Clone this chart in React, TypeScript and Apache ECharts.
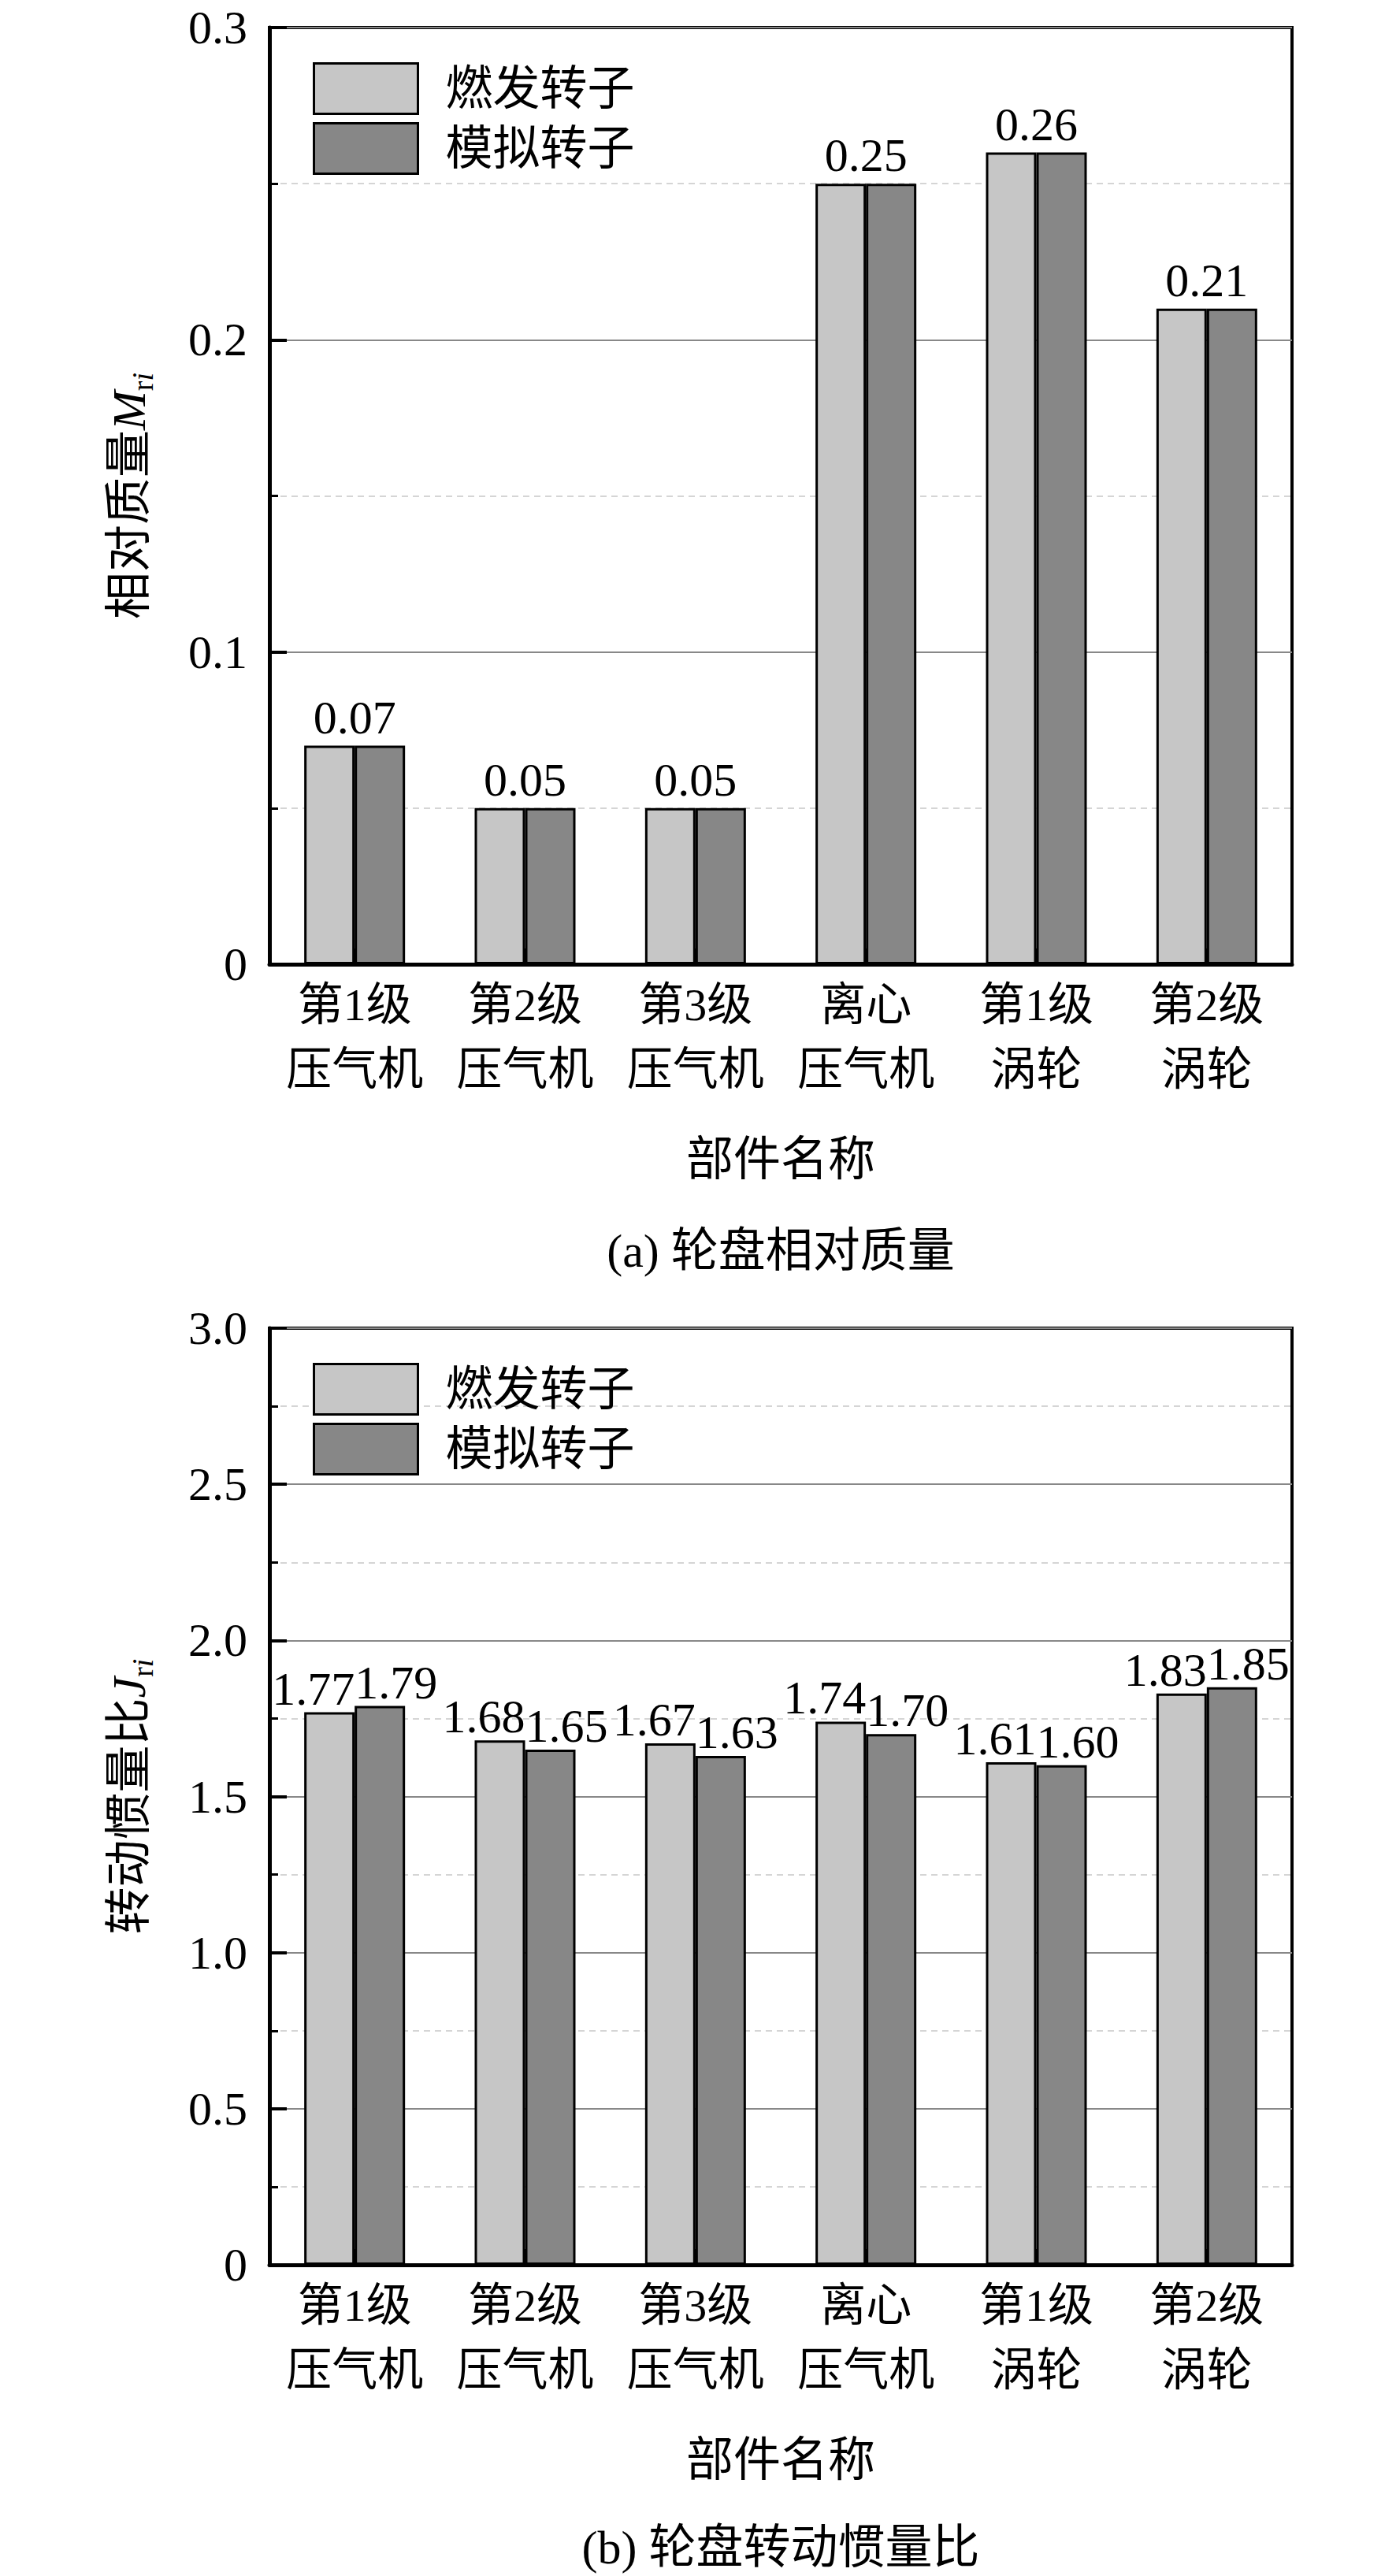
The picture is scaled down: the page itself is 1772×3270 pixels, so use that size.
import React, { useEffect, useRef } from "react";
import * as echarts from "echarts";

const categories = [
  "第1级\n压气机",
  "第2级\n压气机",
  "第3级\n压气机",
  "离心\n压气机",
  "第1级\n涡轮",
  "第2级\n涡轮",
];
const seriesNames = ["燃发转子", "模拟转子"];

const massReal = [0.07, 0.05, 0.05, 0.25, 0.26, 0.21];
const massSim = [0.07, 0.05, 0.05, 0.25, 0.26, 0.21];
const massAxis = { min: 0, max: 0.3, interval: 0.1 };

const inertiaReal = [1.77, 1.68, 1.67, 1.74, 1.61, 1.83];
const inertiaSim = [1.79, 1.65, 1.63, 1.7, 1.6, 1.85];
const inertiaAxis = { min: 0, max: 3, interval: 0.5 };

const FONT = "'Liberation Serif', 'Noto Sans CJK SC', serif";
const LIGHT = "#c6c6c6";
const DARK = "#878787";

type PanelCfg = {
  real: number[];
  sim: number[];
  axis: { min: number; max: number; interval: number };
  digits: number;
  yName: string;
  caption: string;
  groupLabel: boolean;
  captionY: number;
};

function buildOption(cfg: PanelCfg) {
  const labelBase = {
    show: true,
    position: "top",
    distance: cfg.groupLabel ? 6 : 0,
    fontSize: 60,
    fontFamily: FONT,
    color: "#000",
    formatter: (p: any) => Number(p.value).toFixed(2),
  };
  const subStyle = { fontSize: 38, fontFamily: FONT, verticalAlign: "bottom", lineHeight: 30, color: "#000" };
  return {
    animation: false,
    backgroundColor: "#fff",
    grid: {
      left: 342,
      top: 35,
      width: 1298,
      height: 1189,
      show: true,
      borderColor: "#000",
      borderWidth: 4,
      backgroundColor: "transparent",
    },
    legend: {
      orient: "vertical",
      left: 392,
      top: 74,
      itemWidth: 132,
      itemHeight: 64,
      itemGap: 9,
      icon: "rect",
      data: seriesNames,
      itemStyle: { borderColor: "#000", borderWidth: 3 },
      textStyle: { fontSize: 60, fontFamily: FONT, color: "#000", padding: [0, 0, 0, 30] },
    },
    xAxis: {
      type: "category",
      data: categories,
      name: "部件名称",
      nameLocation: "middle",
      nameGap: 218,
      nameTextStyle: { fontSize: 60, fontFamily: FONT, color: "#000" },
      axisLine: { lineStyle: { color: "#000", width: 5 } },
      axisTick: { show: true, inside: true, alignWithLabel: true, length: 20, lineStyle: { color: "#000", width: 3 } },
      axisLabel: { fontSize: 58, fontFamily: FONT, color: "#000", lineHeight: 82, margin: 10, interval: 0 },
      splitLine: { show: false },
    },
    yAxis: {
      type: "value",
      min: cfg.axis.min,
      max: cfg.axis.max,
      interval: cfg.axis.interval,
      name: cfg.yName,
      nameLocation: "middle",
      nameGap: 142,
      nameRotate: 90,
      nameTextStyle: {
        fontSize: 60,
        fontFamily: FONT,
        color: "#000",
        lineHeight: 72,
        rich: {
          a: { fontSize: 60, fontFamily: FONT, lineHeight: 72, color: "#000" },
          m: { fontSize: 60, fontFamily: FONT, fontStyle: "italic", lineHeight: 72, color: "#000" },
          s: subStyle,
          si: { ...subStyle, fontStyle: "italic" },
        },
      },
      axisLine: { show: true, lineStyle: { color: "#000", width: 5 } },
      axisTick: { show: true, inside: true, length: 22, lineStyle: { color: "#000", width: 4 } },
      minorTick: { show: true, splitNumber: 2, length: 11, lineStyle: { color: "#000", width: 3 } },
      axisLabel: {
        fontSize: 60,
        fontFamily: FONT,
        color: "#000",
        margin: 28,
        formatter: (v: number) => (v === 0 ? "0" : v.toFixed(cfg.digits)),
      },
      splitLine: { show: true, lineStyle: { color: "#888", width: 2 } },
      minorSplitLine: { show: true, lineStyle: { color: "#c8c8c8", width: 1.5, type: [8, 6] } },
    },
    series: [
      {
        name: seriesNames[0],
        type: "bar",
        data: cfg.real,
        barWidth: 64,
        barGap: "0%",
        itemStyle: { color: LIGHT, borderColor: "#000", borderWidth: 3 },
        label: cfg.groupLabel
          ? { ...labelBase, offset: [32, 0] }
          : { ...labelBase, align: "right", offset: [32, 0] },
      },
      {
        name: seriesNames[1],
        type: "bar",
        data: cfg.sim,
        barWidth: 64,
        barGap: "0%",
        itemStyle: { color: DARK, borderColor: "#000", borderWidth: 3 },
        label: cfg.groupLabel ? { show: false } : { ...labelBase, align: "left", offset: [-32, 0] },
      },
    ],
    graphic: [
      {
        type: "text",
        x: 991,
        y: cfg.captionY,
        style: {
          text: cfg.caption,
          align: "center",
          verticalAlign: "middle",
          fontSize: 60,
          fontFamily: FONT,
          fill: "#000",
        },
      },
    ],
  };
}

function Panel({ cfg, height }: { cfg: PanelCfg; height: number }) {
  const ref = useRef<HTMLDivElement>(null);
  useEffect(() => {
    if (!ref.current) return;
    const chart = echarts.init(ref.current, undefined, { renderer: "svg" });
    chart.setOption(buildOption(cfg) as any);
    return () => chart.dispose();
  }, []);
  return <div ref={ref} style={{ width: 1772, height }} />;
}

const panelA: PanelCfg = {
  real: massReal,
  sim: massSim,
  axis: massAxis,
  digits: 1,
  yName: "{a|相对质量}{m|M}{s|r}{si|i}",
  caption: "(a) 轮盘相对质量",
  groupLabel: true,
  captionY: 1588,
};

const panelB: PanelCfg = {
  real: inertiaReal,
  sim: inertiaSim,
  axis: inertiaAxis,
  digits: 1,
  yName: "{a|转动惯量比}{m|J}{s|r}{si|i}",
  caption: "(b) 轮盘转动惯量比",
  groupLabel: false,
  captionY: 1583,
};

export default function App() {
  useEffect(() => {
    document.body.style.margin = "0";
  }, []);
  return (
    <div style={{ width: 1772, height: 3270, background: "#fff" }}>
      <Panel cfg={panelA} height={1651} />
      <Panel cfg={panelB} height={1619} />
    </div>
  );
}
